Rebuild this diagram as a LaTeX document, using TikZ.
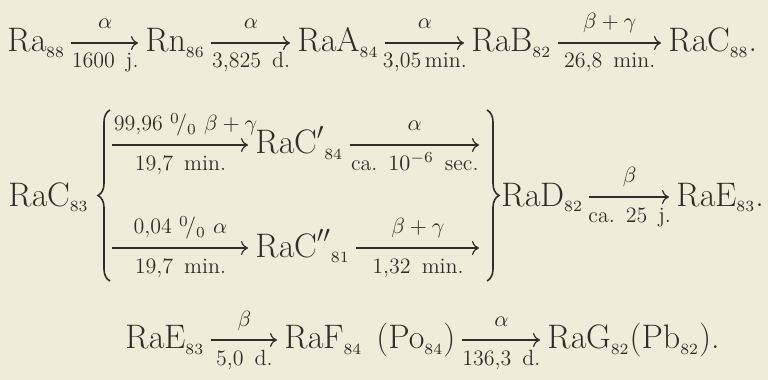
\RequirePackage{fix-cm}
\documentclass[tikz,border=0pt]{standalone}
\usetikzlibrary{arrows.meta,decorations.pathreplacing}

\definecolor{paper}{RGB}{241,236,217}
\definecolor{ink}{RGB}{50,45,40}

\DeclareMathSizes{17}{17}{11.9}{7.8}
\newcommand{\nuc}[2]{$\mathrm{#1}_{\scriptscriptstyle #2}$}
\newcommand{\pct}{$^{0}\!/_{0}$}
\newcommand{\lab}{\fontsize{11}{13}\selectfont}

\tikzset{
	elem/.style={anchor=base west, inner sep=0pt, text height=12.5pt, text depth=3.5pt, font=\fontsize{17}{20}\selectfont},
	arr/.style={-{To[length=3.5pt,width=7pt]}, line width=0.6pt, shorten <=3pt, shorten >=3.5pt},
	up/.style={midway, anchor=base, yshift=7pt, inner sep=0pt, font=\lab},
	down/.style={midway, anchor=base, yshift=-12.5pt, inner sep=0pt, font=\lab},
	brc/.style={decorate, decoration={brace, amplitude=6pt}, line width=0.8pt}
}

\begin{document}
\begin{tikzpicture}[x=0.5pt, y=-0.5pt, color=ink]

\fill[paper] (0,0) rectangle (768,380);
\useasboundingbox (0,0) rectangle (768,380);

% Ra -> RaC
\node[elem] (ra)  at (7,52)   {\nuc{Ra}{88}};
\node[elem] (rn)  at (145,52) {\nuc{Rn}{86}};
\node[elem] (raa) at (297,52) {\nuc{RaA}{84}};
\node[elem] (rab) at (471,52) {\nuc{RaB}{82}};
\node[elem] (rac) at (668,52) {\nuc{RaC}{88}.};
\draw[arr] (ra) -- (rn) node[up] (a1) {$\alpha$} node[down] (t1) {1600\enspace j.};
\draw[arr] (rn) -- (raa) node[up] (a2) {$\alpha$} node[down] (t2) {3,825\enspace d.};
\draw[arr] (raa) -- (rab) node[up] (a3) {$\alpha$} node[down] (t3) {3,05\,min.};
\draw[arr] (rab) -- (rac) node[up] (a4) {$\beta+\gamma$} node[down] (t4) {26,8\enspace min.};

% branching of RaC
\node[elem] (racm) at (8,206) {\nuc{RaC}{83}};
\draw[brc] (110,281) -- (110,110);
\draw[brc] (487,110) -- (487,281);
\coordinate (u0) at (106,145);
\coordinate (l0) at (106,248);
\coordinate (u1) at (486,145);
\coordinate (l1) at (486,248);
\node[elem] (rcp)  at (255,154) {$\mathrm{RaC}'{}_{\scriptscriptstyle 84}$};
\node[elem] (rcpp) at (255,257) {$\mathrm{RaC}''{}_{\scriptscriptstyle 81}$};
\draw[arr] (u0) -- (rcp) node[up, xshift=2.5pt] (a5) {99,96 \pct{} $\beta+\gamma$} node[down] (t5) {19,7\enspace min.};
\draw[arr] (rcp) -- (u1) node[up] (a6) {$\alpha$} node[down] (t6) {ca.\enspace $10^{-6}$\enspace sec.};
\draw[arr] (l0) -- (rcpp) node[up] (a7) {0,04 \pct{} $\alpha$} node[down] (t7) {19,7\enspace min.};
\draw[arr] (rcpp) -- (l1) node[up] (a8) {$\beta+\gamma$} node[down] (t8) {1,32\enspace min.};
\node[elem] (rad) at (501,206) {\nuc{RaD}{82}};
\node[elem] (rae) at (676,206) {\nuc{RaE}{83}.};
\draw[arr] (rad) -- (rae) node[up] (a9) {$\beta$} node[down] (t9) {ca.\enspace 25\enspace j.};

% RaE -> RaG
\node[elem] (e3)  at (125,349) {\nuc{RaE}{83}};
\node[elem] (f3)  at (284,349) {\nuc{RaF}{84}};
\node[elem] (po3) at (376,349) {(\nuc{Po}{84})};
\node[elem] (g3)  at (547,349) {\nuc{RaG}{82}(\nuc{Pb}{82}).};
\draw[arr] (e3) -- (f3) node[up] (a10) {$\beta$} node[down] (t10) {5,0\enspace d.};
\draw[arr] (po3) -- (g3) node[up] (a11) {$\alpha$} node[down] (t11) {136,3\enspace d.};

\end{tikzpicture}
\end{document}
